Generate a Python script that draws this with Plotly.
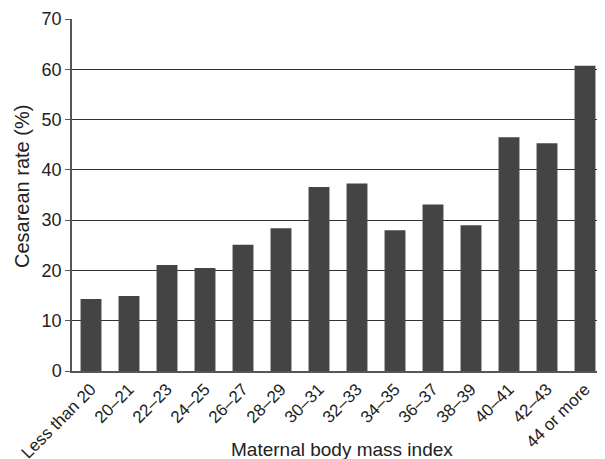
import plotly.graph_objects as go

categories = ["Less than 20", "20–21", "22–23", "24–25", "26–27", "28–29", "30–31",
              "32–33", "34–35", "36–37", "38–39", "40–41", "42–43", "44 or more"]
cesarean_rate = [14.3, 14.9, 21.1, 20.5, 25.1, 28.4, 36.6, 37.3, 28.0, 33.1, 29.0, 46.5, 45.3, 60.7]
y_ticks = [0, 10, 20, 30, 40, 50, 60, 70]

# page has 8px body margin; compensate so the plot sits where the reference does
OFF = 8
W, H = 605 - OFF, 459 - OFF
L, R, T = 72 - OFF, 1, 19 - OFF
B = H - (371 - OFF)
pw, ph = W - L - R, H - T - B

def px(x):
    return (x - OFF - L) / pw

def py(y):
    return (H - B - (y - OFF)) / ph

fig = go.Figure(go.Bar(x=categories, y=cesarean_rate, marker=dict(color="#444444", line=dict(width=0))))

fig.update_layout(
    width=W, height=H,
    margin=dict(l=L, r=R, t=T, b=B, autoexpand=False),
    plot_bgcolor="white", paper_bgcolor="white",
    bargap=0.45,
    showlegend=False,
    font=dict(family="Liberation Sans, Arial, sans-serif", color="#222222"),
)
fig.update_xaxes(
    tickangle=-45, tickfont=dict(size=17),
    showline=True, linecolor="#555555", linewidth=1.5,
    ticks="", automargin=False,
)
fig.update_yaxes(
    range=[0, 70], tickvals=y_ticks, tickfont=dict(size=18),
    showline=True, linecolor="#555555", linewidth=1.5,
    showgrid=True, gridcolor="#333333", gridwidth=1.2,
    ticks="outside", ticklen=5, tickcolor="#555555",
    zeroline=False, automargin=False,
)
fig.add_annotation(text="Cesarean rate (%)", textangle=-90, showarrow=False,
                   xref="paper", yref="paper", x=px(22), y=py(187),
                   xanchor="center", yanchor="middle", font=dict(size=20))
fig.add_annotation(text="Maternal body mass index", showarrow=False,
                   xref="paper", yref="paper", x=px(342), y=py(449),
                   xanchor="center", yanchor="middle", font=dict(size=19))
fig.write_html("out.html")
